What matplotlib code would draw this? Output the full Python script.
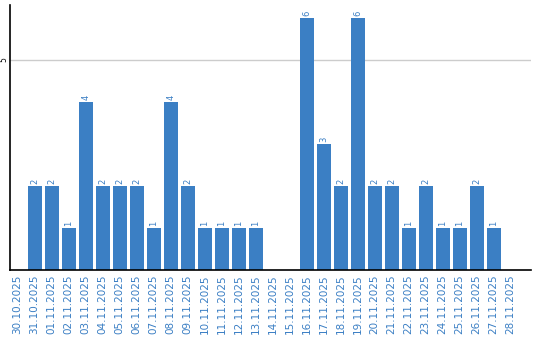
import matplotlib
matplotlib.use("Agg")
import matplotlib.pyplot as plt

dates = ["30.10.2025", "31.10.2025", "01.11.2025", "02.11.2025", "03.11.2025",
         "04.11.2025", "05.11.2025", "06.11.2025", "07.11.2025", "08.11.2025",
         "09.11.2025", "10.11.2025", "11.11.2025", "12.11.2025", "13.11.2025",
         "14.11.2025", "15.11.2025", "16.11.2025", "17.11.2025", "18.11.2025",
         "19.11.2025", "20.11.2025", "21.11.2025", "22.11.2025", "23.11.2025",
         "24.11.2025", "25.11.2025", "26.11.2025", "27.11.2025", "28.11.2025"]
counts = [0, 2, 2, 1, 4, 2, 2, 2, 1, 4,
          2, 1, 1, 1, 1, 0, 0, 6, 3, 2,
          6, 2, 2, 1, 2, 1, 1, 2, 1, 0]

blue = "#3b7fc4"
fig = plt.figure(figsize=(5.4, 3.4), dpi=100)
# axes spans x 10..531 px, y 5..270 px
ax = fig.add_axes([10 / 540, 70 / 340, 521 / 540, 265 / 340])

x = list(range(len(dates)))
ax.bar(x, counts, width=0.82, color=blue, zorder=2)
for xi, v in zip(x, counts):
    if v > 0:
        ax.text(xi, v + 0.05, str(v), rotation=90, ha="center", va="bottom",
                color=blue, fontsize=6)

ax.set_xlim(-0.45, 30.2)
ax.set_ylim(0, 6.31)
ax.set_yticks([5])
ax.set_yticklabels(["5"], rotation=90, va="center", fontsize=5.5)
ax.tick_params(axis="y", length=0, pad=1.5)
ax.set_xticks(x)
ax.set_xticklabels(dates, rotation=90, color=blue, fontsize=7.5)
ax.tick_params(axis="x", length=0, pad=3)
ax.grid(axis="y", color="#cccccc", linewidth=1, zorder=1)
for s in ["top", "right"]:
    ax.spines[s].set_visible(False)
ax.spines["left"].set_linewidth(1.2)
ax.spines["bottom"].set_linewidth(1.2)

fig.savefig("out.png", dpi=100)
